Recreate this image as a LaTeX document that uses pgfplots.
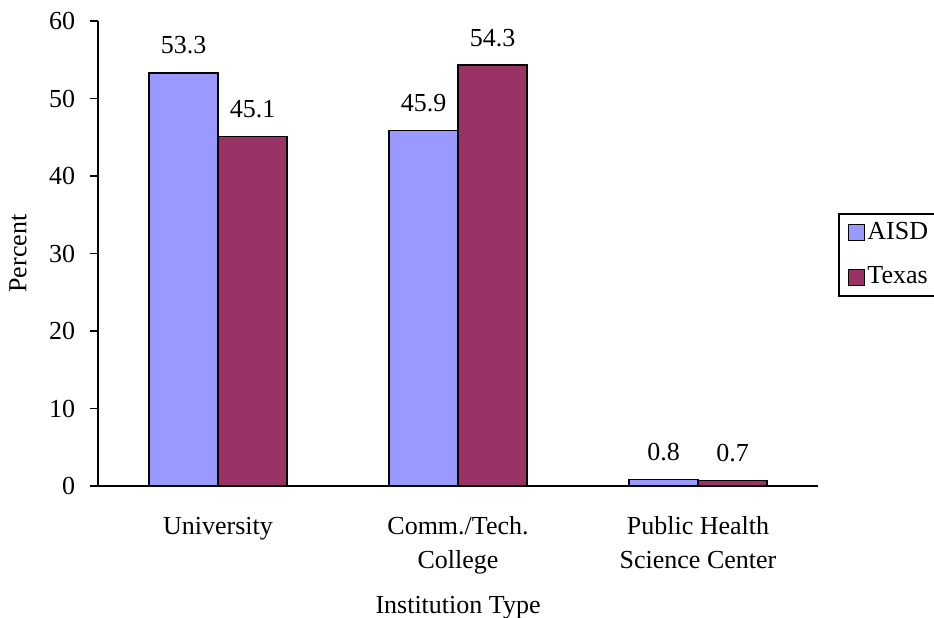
\documentclass[border=0pt]{standalone}
\usepackage{pgfplots}
\pgfplotsset{compat=1.18}
\usepackage{fontspec}
\setmainfont{Liberation Serif}
\definecolor{aisd}{HTML}{9999FF}
\definecolor{texas}{HTML}{993366}
\newcommand{\fs}{\fontsize{26pt}{34pt}\selectfont}
\begin{document}
\fs
\begin{tikzpicture}
\begin{axis}[
  at={(98pt,132pt)}, anchor=south west,
  scale only axis, width=720pt, height=465pt,
  xmin=-0.5, xmax=2.5, ymin=0, ymax=60,
  ybar=0pt, bar width=69pt,
  axis x line*=bottom, axis y line*=left,
  axis line style={line width=1.5pt, -},
  xtick={0,1,2},
  xticklabels={University,{Comm./Tech.\\College},{Public Health\\Science Center}},
  x tick label style={align=center, font=\fs, yshift=-14pt},
  major x tick style={draw=none},
  extra x ticks={-0.5,0.5,1.5,2.5},
  extra x tick labels={},
  extra x tick style={major tick length=8pt, tick align=outside, tick style={line width=1.5pt, black}},
  ytick={0,10,...,60},
  tick align=outside, major tick length=8pt,
  tick style={line width=1.5pt, black},
  y tick label style={font=\fs, xshift=-6pt},
  /pgf/number format/assume math mode=true,
  ylabel={Percent}, ylabel style={font=\fs, at={(axis description cs:-0.111,0.5)}, anchor=center},
  xlabel={Institution Type}, xlabel style={font=\fs, at={(axis description cs:0.5,-0.262)}, anchor=center},
  nodes near coords={\pgfmathprintnumber[fixed,fixed zerofill,precision=1]{\pgfplotspointmeta}},
  every node near coord/.append style={font=\fs, anchor=south, inner sep=0pt, yshift=18pt, black},
  legend style={at={(rel axis cs:1.028,0.587)}, anchor=north west, draw=black, line width=1.5pt, font=\fs, inner xsep=9pt, inner ysep=6pt, row sep=20pt},
  legend image code/.code={\draw[#1, line width=1.5pt] (0pt,-8pt) rectangle (16pt,8pt);},
  legend cell align=left,
]
\addplot[fill=aisd, draw=black, line width=1.4pt] coordinates {(0,53.3) (1,45.9) (2,0.8)};
\addplot[fill=texas, draw=black, line width=1.4pt] coordinates {(0,45.1) (1,54.3) (2,0.7)};
\legend{AISD,Texas}
\end{axis}
\pgfresetboundingbox
\path[use as bounding box] (0,0) rectangle (934pt,618pt);
\end{tikzpicture}
\end{document}
